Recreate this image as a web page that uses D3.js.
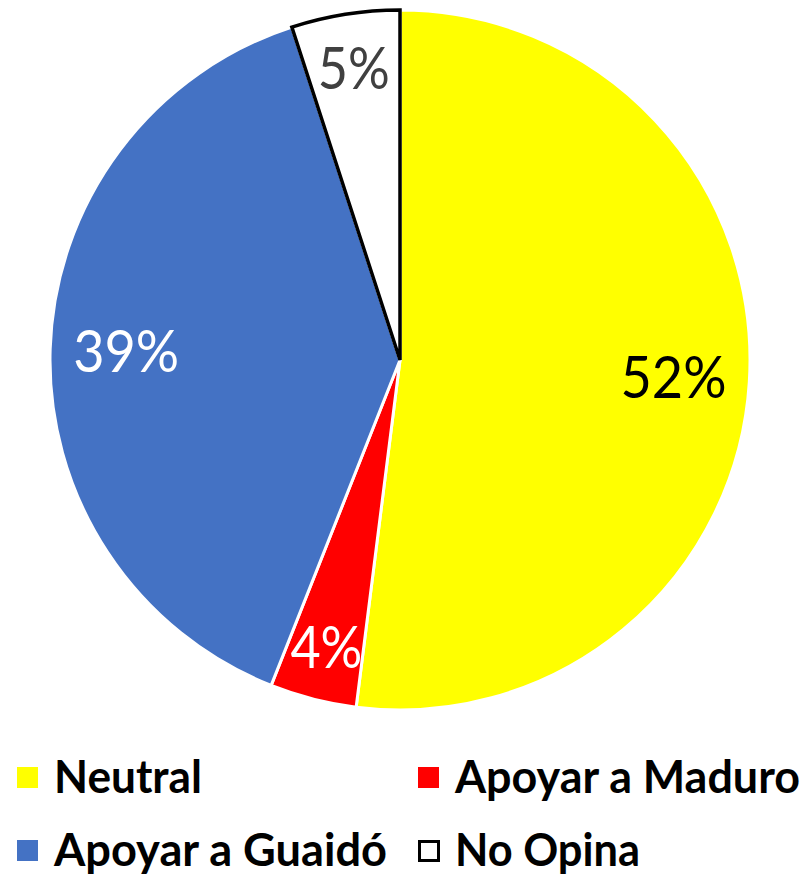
<!DOCTYPE html>
<html>
<head>
<meta charset="utf-8">
<script src="https://cdn.jsdelivr.net/npm/d3@7"></script>
<style>
  body { margin: 0; background: #fff; }
  svg { display: block; font-family: Lato, "Open Sans", sans-serif; }
</style>
</head>
<body>
<svg id="chart" width="808" height="876"></svg>
<script>
var categories = ['Neutral', 'Apoyar a Maduro', 'Apoyar a Guaidó', 'No Opina']
var values = [52, 4, 39, 5]
var colors = ['#ffff00', '#ff0000', '#4472c4', '#ffffff']
var labelColors = ['#000000', '#ffffff', '#ffffff', '#404040']

const cx = 400
const cy = 360
const radius = 350

var svg = d3.select('#chart')

var data = categories.map((c, i) => ({ name: c, value: values[i], color: colors[i], labelColor: labelColors[i] }))

var pie = d3.pie().sort(null).value(d => d.value)
var arcs = pie(data)

var arc = d3.arc().innerRadius(0).outerRadius(radius)

var g = svg.append('g').attr('transform', 'translate(' + cx + ',' + cy + ')')

g.selectAll('path.slice')
  .data(arcs)
  .enter().append('path')
  .attr('class', 'slice')
  .attr('d', arc)
  .attr('fill', d => d.data.color)
  .attr('stroke', '#fff')
  .attr('stroke-width', 3)
  .attr('stroke-linejoin', 'round')

// the white slice gets a black outline, drawn on top
g.selectAll('path.outline')
  .data(arcs.filter(d => d.data.color === '#ffffff'))
  .enter().append('path')
  .attr('class', 'outline')
  .attr('d', arc)
  .attr('fill', 'none')
  .attr('stroke', '#000')
  .attr('stroke-width', 3.5)

// small slices put their label further out, like the best-fit placement
var labelArc = function (d) {
  var r = d.data.value < 10 ? 296 : 274
  return d3.arc().innerRadius(r).outerRadius(r).centroid(d)
}

g.selectAll('text.label')
  .data(arcs)
  .enter().append('text')
  .attr('class', 'label')
  .attr('transform', d => 'translate(' + labelArc(d) + ')')
  .attr('text-anchor', 'middle')
  .attr('dy', '0.36em')
  .attr('font-size', 58)
  .attr('fill', d => d.data.labelColor)
  .attr('textLength', d => String(d.data.value).length === 2 ? 106 : 72)
  .attr('lengthAdjust', 'spacingAndGlyphs')
  .text(d => d.data.value + '%')

// legend, two columns
var legendX = [17, 418]
var legendY = [767, 840]
var legendWidths = [148, 345, 333, 185]

var legend = svg.append('g').attr('class', 'legend')

data.forEach((d, i) => {
  var x = legendX[i % 2]
  var y = legendY[Math.floor(i / 2)]
  var white = d.color === '#ffffff'
  var item = legend.append('g').attr('transform', 'translate(' + x + ',' + y + ')')
  item.append('rect')
    .attr('x', white ? 1.5 : 0)
    .attr('y', white ? 1.5 : 0)
    .attr('width', white ? 19 : 21)
    .attr('height', white ? 19 : 21)
    .attr('fill', d.color)
    .attr('stroke', white ? '#000' : 'none')
    .attr('stroke-width', 3)
  item.append('text')
    .attr('x', 37)
    .attr('y', 26)
    .attr('font-size', 45)
    .attr('font-weight', 'bold')
    .attr('fill', '#000')
    .attr('textLength', legendWidths[i])
    .attr('lengthAdjust', 'spacingAndGlyphs')
    .text(d.name)
})
</script>
</body>
</html>
